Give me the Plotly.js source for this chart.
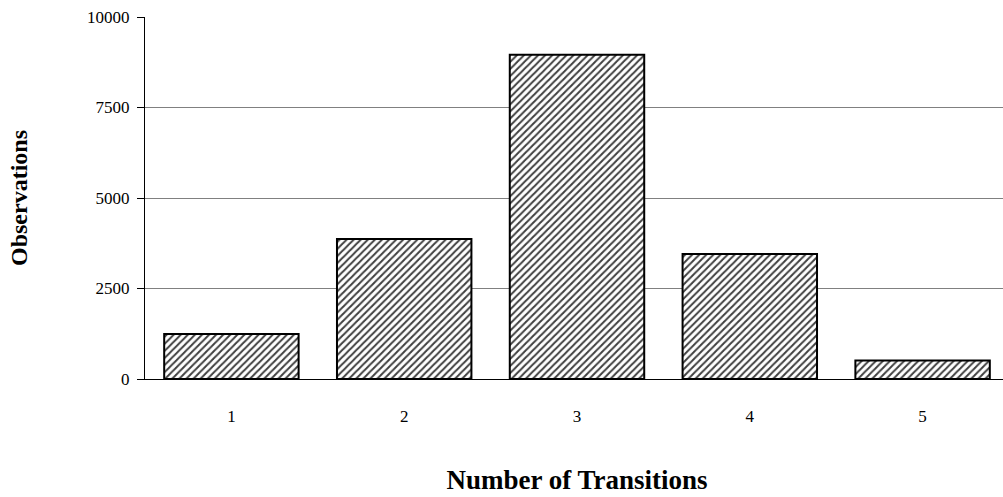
<!DOCTYPE html>
<html><head><meta charset="utf-8">
<script src="https://cdn.plot.ly/plotly-3.0.1.min.js"></script>
<style>html,body{margin:0;padding:0;background:#fff;overflow:hidden;}#chart{width:1009px;height:497px;}</style>
</head><body><div id="chart"></div>
<script>
const categories = ["1", "2", "3", "4", "5"];
const observations = [1240, 3870, 8960, 3450, 510];
const yTicks = [0, 2500, 5000, 7500, 10000];

const trace = {
  type: "bar",
  x: categories,
  y: observations,
  marker: {
    color: "#ffffff",
    line: {color: "#000000", width: 2},
    pattern: {shape: "/", fgcolor: "#404040", bgcolor: "#ffffff", size: 5, solidity: 0.4}
  },
  hoverinfo: "x+y"
};

const layout = {
  width: 1009, height: 497,
  margin: {l: 145, r: 0, t: 17, b: 118},
  paper_bgcolor: "#ffffff", plot_bgcolor: "#ffffff",
  bargap: 0.222,
  showlegend: false,
  font: {family: "Liberation Serif, Times New Roman, serif", size: 17, color: "#000"},
  xaxis: {
    type: "category",
    showline: true, linecolor: "#000", linewidth: 1,
    ticks: "", showgrid: false, zeroline: false,
    tickfont: {size: 17}, ticklabelstandoff: 22,
    title: {text: "<b>Number of Transitions</b>", font: {size: 27}, standoff: 44}
  },
  yaxis: {
    range: [0, 10000],
    tickvals: yTicks, ticktext: yTicks.map(String),
    showline: true, linecolor: "#000", linewidth: 1,
    ticks: "outside", ticklen: 7, tickcolor: "#000",
    showgrid: true, gridcolor: "#808080", gridwidth: 1,
    zeroline: false,
    tickfont: {size: 17}, ticklabelstandoff: 4,
    title: {text: "<b>Observations</b>", font: {size: 24}, standoff: 52}
  }
};

Plotly.newPlot("chart", [trace], layout, {displayModeBar: false, staticPlot: true});
</script>
</body></html>
